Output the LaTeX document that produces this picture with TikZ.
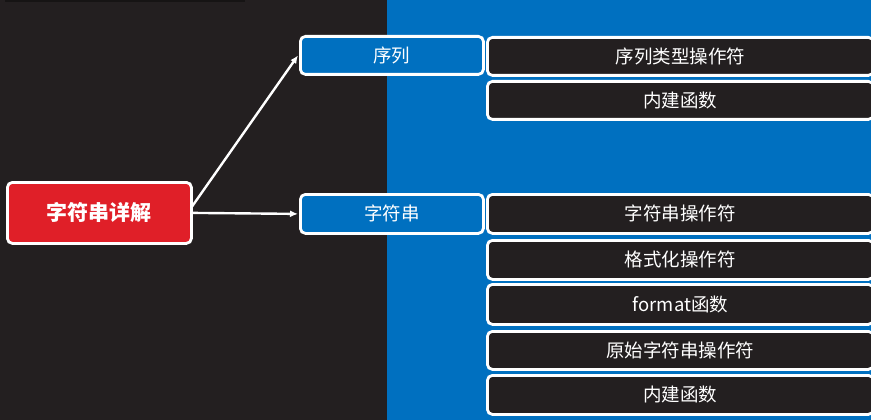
\documentclass[tikz,border=0pt]{standalone}
\usepackage{fontspec}
\newfontfamily\cjk{Noto Sans CJK SC}
\usetikzlibrary{arrows.meta}
\definecolor{darkbg}{HTML}{231F20}
\definecolor{bluebg}{HTML}{0070C0}
\definecolor{redbox}{HTML}{E01F28}
\tikzset{
  box/.style={draw=white, line width=2.8pt, rounded corners=5pt, minimum height=#1, inner sep=0pt, font=\cjk\fontsize{18.5}{22}\selectfont, text=white, anchor=north west},
  conn/.style={draw=white, line width=2.4pt, -{Latex[length=8pt,width=7pt]}}
}
\begin{document}
\begin{tikzpicture}[x=1pt,y=-1pt]
\useasboundingbox (0,0) rectangle (871,420);
\fill[darkbg] (0,0) rectangle (387,420);
\fill[bluebg] (387,0) rectangle (871,420);
\fill[black,opacity=0.35] (5,0) rectangle (245,2.5);
% root
\node[box=61pt, fill=redbox, minimum width=184pt, font=\cjk\bfseries\fontsize{21}{24}\selectfont] (root) at (6,181) {字符串详解};
% level 1
\node[box=38pt, fill=bluebg, minimum width=183pt] (seq) at (299,35) {序列};
\node[box=39pt, fill=bluebg, minimum width=183pt] (str) at (299,193) {字符串};
% level 2
\node[box=38pt, fill=darkbg, minimum width=386pt] (s1) at (486,36) {序列类型操作符};
\node[box=38pt, fill=darkbg, minimum width=386pt] (s2) at (486,80) {内建函数};
\node[box=39pt, fill=darkbg, minimum width=386pt] (t1) at (486,193) {字符串操作符};
\node[box=39pt, fill=darkbg, minimum width=386pt] (t2) at (486,239) {格式化操作符};
\node[box=40pt, fill=darkbg, minimum width=386pt] (t3) at (486,283) {format函数};
\node[box=38pt, fill=darkbg, minimum width=386pt] (t4) at (486,330) {原始字符串操作符};
\node[box=39pt, fill=darkbg, minimum width=386pt] (t5) at (486,374) {内建函数};
% connectors
\coordinate (rs) at (191,208);
\draw[conn] (rs) -- ([xshift=-1pt]seq.west);
\draw[conn] (root.east) -- ([xshift=-1pt]str.west);
\end{tikzpicture}
\end{document}
